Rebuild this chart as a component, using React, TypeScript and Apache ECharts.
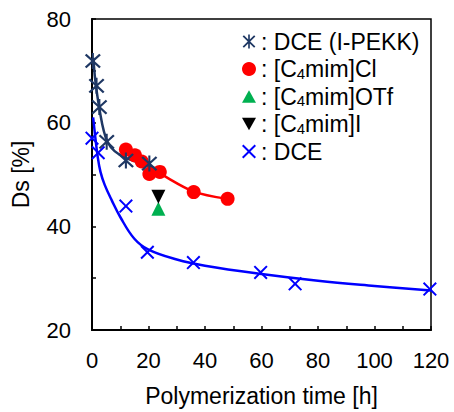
import React, { useEffect, useRef } from "react";
import * as echarts from "echarts";

// Measured points
const hoursIPEKK = [0.3, 1.6, 2.6, 5.2, 12, 20.3];
const dsIPEKK = [71.9, 67.1, 63.0, 56.3, 52.7, 52.1];

const hoursCl = [12, 15.2, 17.6, 20.3, 24, 36, 48];
const dsCl = [54.8, 53.7, 52.5, 50.1, 50.5, 46.6, 45.3];

const hoursOTf = [23.5];
const dsOTf = [43.4];

const hoursI = [23.5];
const dsI = [45.7];

const hoursDCE = [0, 2.2, 12, 19.6, 35.9, 59.7, 71.9, 119.6];
const dsDCE = [57.0, 54.2, 43.9, 35.0, 33.0, 31.1, 28.9, 27.9];

// Trend curves
const curveIPEKKx = [0.5, 1, 2, 3, 4, 5.5, 8, 12, 16, 22];
const curveIPEKKy = [72.5, 69, 64.8, 61.5, 58.8, 56.3, 54.5, 53.2, 52.4, 51.3];

const curveClx = [12, 16, 20, 24, 36, 48];
const curveCly = [55, 53.2, 51.4, 50.2, 46.7, 45.3];

const curveDCEx = [0.4, 1, 2, 3, 4.5, 7, 10, 15, 20, 30, 40, 60, 80, 100, 120];
const curveDCEy = [61, 58, 53.5, 50.5, 48, 45, 41.8, 37.6, 35.5, 33.6, 32.4, 30.8, 29.5, 28.5, 27.6];

const seriesNames = ["DCE (I-PEKK)", "[C4mim]Cl", "[C4mim]OTf", "[C4mim]I", "DCE"];
const legendTexts = [": DCE (I-PEKK)", ": [C{s|4}mim]Cl", ": [C{s|4}mim]OTf", ": [C{s|4}mim]I", ": DCE"];

const xTicks = [0, 20, 40, 60, 80, 100, 120];
const yTicks = [20, 40, 60, 80];

const zip = (a: number[], b: number[]) => a.map((v, i) => [v, b[i]]);

const STAR =
  "path://M0,1 L1,0 L5,4 L9,0 L10,1 L6,5 L10,9 L9,10 L5,6 L1,10 L0,9 L4,5 Z M4.35,-0.5 L5.65,-0.5 L5.65,10.5 L4.35,10.5 Z";
const CROSS = "path://M0,1 L1,0 L5,4 L9,0 L10,1 L6,5 L10,9 L9,10 L5,6 L1,10 L0,9 L4,5 Z";
const TRI_UP = "path://M5,0 L10,9 L0,9 Z";
const TRI_DOWN = "path://M0,0 L10,0 L5,9 Z";

const FONT = "Liberation Sans, Arial, sans-serif";

export default function App() {
  const ref = useRef<HTMLDivElement>(null);
  useEffect(() => {
    document.body.style.margin = "0";
    const chart = echarts.init(ref.current!, undefined, { renderer: "svg" });
    chart.setOption({
      animation: false,
      backgroundColor: "#fff",
      grid: {
        left: 92,
        top: 19,
        right: 23,
        bottom: 77,
        show: true,
        borderColor: "#000",
        borderWidth: 1.5,
      },
      legend: {
        data: seriesNames,
        orient: "vertical",
        left: 237,
        top: 25,
        itemWidth: 14,
        itemHeight: 14,
        itemGap: 4.5,
        textStyle: {
          fontFamily: FONT,
          fontSize: 23,
          color: "#000",
          lineHeight: 23,
          rich: {
            s: {
              fontFamily: FONT,
              fontSize: 15,
              color: "#000",
              verticalAlign: "bottom",
              lineHeight: 15,
              padding: [8, 0, 0, 0],
            },
          },
        },
        formatter: (name: string) => legendTexts[seriesNames.indexOf(name)],
      },
      xAxis: {
        type: "value",
        min: 0,
        max: 120,
        interval: 10,
        name: "Polymerization time [h]",
        nameLocation: "middle",
        nameGap: 54,
        nameTextStyle: { fontFamily: FONT, fontSize: 23, color: "#000" },
        axisLine: { lineStyle: { color: "#000", width: 2 } },
        axisTick: { inside: true, length: 4, lineStyle: { color: "#000", width: 1.5 } },
        splitLine: { show: false },
        axisLabel: {
          margin: 19,
          fontFamily: FONT,
          fontSize: 22,
          color: "#000",
          formatter: (v: number) => (xTicks.includes(v) ? String(v) : ""),
        },
      },
      yAxis: {
        type: "value",
        min: 20,
        max: 80,
        interval: 10,
        name: "Ds [%]",
        nameLocation: "middle",
        nameGap: 60,
        nameTextStyle: { fontFamily: FONT, fontSize: 23, color: "#000" },
        axisLine: { lineStyle: { color: "#000", width: 2 } },
        axisTick: { inside: true, length: 4, lineStyle: { color: "#000", width: 1.5 } },
        splitLine: { show: false },
        axisLabel: {
          margin: 21,
          fontFamily: FONT,
          fontSize: 22,
          color: "#000",
          formatter: (v: number) => (yTicks.includes(v) ? String(v) : ""),
        },
      },
      series: [
        {
          type: "line",
          name: "curveDCE",
          data: zip(curveDCEx, curveDCEy),
          smooth: 0.4,
          showSymbol: false,
          lineStyle: { color: "#0000ff", width: 2.5 },
          z: 2,
        },
        {
          type: "line",
          name: "curveIPEKK",
          data: zip(curveIPEKKx, curveIPEKKy),
          smooth: 0.4,
          showSymbol: false,
          lineStyle: { color: "#1f3864", width: 2.5 },
          z: 2,
        },
        {
          type: "line",
          name: "curveCl",
          data: zip(curveClx, curveCly),
          smooth: 0.3,
          showSymbol: false,
          lineStyle: { color: "#ff0000", width: 2.5 },
          z: 2,
        },
        {
          type: "scatter",
          name: "[C4mim]Cl",
          data: zip(hoursCl, dsCl),
          symbol: "circle",
          symbolSize: 14,
          itemStyle: { color: "#ff0000", opacity: 1 },
          z: 3,
        },
        {
          type: "scatter",
          name: "DCE (I-PEKK)",
          data: zip(hoursIPEKK, dsIPEKK),
          symbol: STAR,
          symbolSize: 16,
          itemStyle: { color: "#1f3864", opacity: 1 },
          z: 4,
        },
        {
          type: "scatter",
          name: "[C4mim]OTf",
          data: zip(hoursOTf, dsOTf),
          symbol: TRI_UP,
          symbolSize: 14,
          itemStyle: { color: "#00b050", opacity: 1 },
          z: 3,
        },
        {
          type: "scatter",
          name: "[C4mim]I",
          data: zip(hoursI, dsI),
          symbol: TRI_DOWN,
          symbolSize: 14,
          itemStyle: { color: "#000000", opacity: 1 },
          z: 3,
        },
        {
          type: "scatter",
          name: "DCE",
          data: zip(hoursDCE, dsDCE),
          symbol: CROSS,
          symbolSize: 14,
          itemStyle: { color: "#0000ff", opacity: 1 },
          clip: false,
          z: 3,
        },
      ],
    });
    return () => chart.dispose();
  }, []);
  return <div ref={ref} style={{ width: 454, height: 412 }} />;
}
